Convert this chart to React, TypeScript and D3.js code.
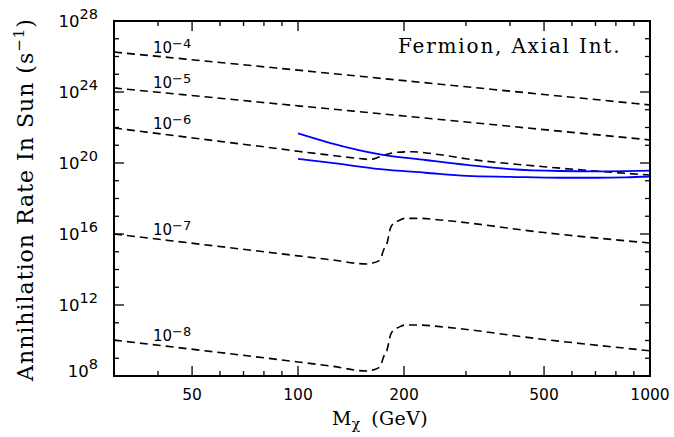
import * as d3 from 'd3'

// x axis (GeV)
const massMajorTicks = [50, 100, 200, 500]
const massMinorTicks = [40, 60, 70, 80, 90, 300, 400, 600, 700, 800, 900]
const massLabelValues = [50, 100, 200, 500, 1000]

// y axis, log10 of the rate
const rateMajorExps = [8, 12, 16, 20, 24, 28]
const rateMinorExps = [9, 10, 11, 13, 14, 15, 17, 18, 19, 21, 22, 23, 25, 26, 27]

// dashed curves, log10(rate)
const massStraight = [30, 100, 200, 500, 1000]
const rateEps4 = [26.25, 25.23, 24.64, 23.86, 23.27]
const rateEps5 = [24.23, 23.22, 22.65, 21.88, 21.3]

const massEps6 = [30, 60, 90, 100, 120, 150, 160, 170, 180, 190, 210, 250, 300, 500, 1000]
const rateEps6 = [21.97, 21.22, 20.78, 20.66, 20.47, 20.25, 20.2, 20.34, 20.5, 20.6, 20.63, 20.48, 20.24, 19.79, 19.32]

const massThreshold = [30, 100, 125, 157, 162, 171, 175, 179, 183, 187, 193, 201, 222, 253, 500, 1000]
const rateEps7 = [16.0, 14.77, 14.54, 14.31, 14.35, 14.54, 15.1, 15.48, 16.32, 16.61, 16.75, 16.88, 16.88, 16.79, 16.08, 15.49]
const rateEps8 = [10.02, 8.79, 8.55, 8.28, 8.32, 8.52, 9.08, 9.46, 10.3, 10.6, 10.74, 10.87, 10.87, 10.78, 10.06, 9.42]

// solid blue curves
const massBlue = [100, 123, 171, 230, 302, 400, 555, 700, 850, 1000]
const rateBlueUpper = [21.67, 21.14, 20.49, 20.17, 19.89, 19.66, 19.55, 19.53, 19.54, 19.57]
const rateBlueLower = [20.23, 20.02, 19.65, 19.45, 19.27, 19.22, 19.17, 19.17, 19.19, 19.24]

const curveLabels = ['−4', '−5', '−6', '−7', '−8']

const W = 674
const H = 437
const left = 114
const right = 650
const top = 21
const bottom = 376

const x = d3.scaleLog().domain([30, 1000]).range([left, right])
const y = d3.scaleLinear().domain([8, 28]).range([bottom, top])

const line = d3
  .line<[number, number]>()
  .x((d) => x(d[0]))
  .y((d) => y(d[1]))
  .curve(d3.curveMonotoneX)

const zip = (ms: number[], rs: number[]) => ms.map((m, i) => [m, rs[i]] as [number, number])

const dashed = [
  zip(massStraight, rateEps4),
  zip(massStraight, rateEps5),
  zip(massEps6, rateEps6),
  zip(massThreshold, rateEps7),
  zip(massThreshold, rateEps8),
]
const solid = [zip(massBlue, rateBlueUpper), zip(massBlue, rateBlueLower)]

const sans = '"DejaVu Sans", sans-serif'
const serif = '"DejaVu Serif", serif'

export default function App() {
  return (
    <div style={{ position: 'absolute', left: 0, top: 0 }}>
      <svg width={W} height={H} style={{ display: 'block', background: '#fff' }}>
        {/* curves */}
        {dashed.map((d, i) => (
          <path key={'d' + i} d={line(d) || ''} fill="none" stroke="#000" strokeWidth={1.6} strokeDasharray="8,5" />
        ))}
        {solid.map((d, i) => (
          <path key={'s' + i} d={line(d) || ''} fill="none" stroke="#0000ff" strokeWidth={1.8} />
        ))}

        {/* curve labels */}
        {dashed.map((d, i) => {
          const ly = y(d[0][1]) + 0.5
          return (
            <text key={'l' + i} x={153} y={ly} fontFamily={sans} fontSize={15} fill="#000">
              10
              <tspan dy={-5} fontSize={13}>
                {curveLabels[i]}
              </tspan>
            </text>
          )
        })}

        {/* frame */}
        <rect x={left} y={top} width={right - left} height={bottom - top} fill="none" stroke="#000" strokeWidth={2} />

        {/* x ticks */}
        {massMajorTicks.map((m) => (
          <g key={'xm' + m}>
            <line x1={x(m)} x2={x(m)} y1={bottom} y2={bottom - 10} stroke="#000" strokeWidth={1.3} />
            <line x1={x(m)} x2={x(m)} y1={top} y2={top + 10} stroke="#000" strokeWidth={1.3} />
          </g>
        ))}
        {massMinorTicks.map((m) => (
          <g key={'xn' + m}>
            <line x1={x(m)} x2={x(m)} y1={bottom} y2={bottom - 5} stroke="#000" strokeWidth={1.3} />
            <line x1={x(m)} x2={x(m)} y1={top} y2={top + 5} stroke="#000" strokeWidth={1.3} />
          </g>
        ))}
        {massLabelValues.map((m) => (
          <text key={'xl' + m} x={x(m)} y={400} textAnchor="middle" fontFamily={sans} fontSize={15.5} fill="#000">
            {m}
          </text>
        ))}

        {/* y ticks */}
        {rateMajorExps.map((e) => (
          <g key={'ym' + e}>
            <line x1={left} x2={left + 10} y1={y(e)} y2={y(e)} stroke="#000" strokeWidth={1.3} />
            <line x1={right} x2={right - 10} y1={y(e)} y2={y(e)} stroke="#000" strokeWidth={1.3} />
          </g>
        ))}
        {rateMinorExps.map((e) => (
          <g key={'yn' + e}>
            <line x1={left} x2={left + 5} y1={y(e)} y2={y(e)} stroke="#000" strokeWidth={1.3} />
            <line x1={right} x2={right - 5} y1={y(e)} y2={y(e)} stroke="#000" strokeWidth={1.3} />
          </g>
        ))}
        {rateMajorExps.map((e) => (
          <text
            key={'yl' + e}
            x={98}
            y={Math.min(y(e) + 6, 377)}
            textAnchor="end"
            fontFamily={sans}
            fontSize={16.5}
            fill="#000"
          >
            10
            <tspan dy={-8} fontSize={14.5}>
              {e}
            </tspan>
          </text>
        ))}

        {/* title */}
        <text x={398} y={53} fontFamily={serif} fontSize={20} letterSpacing={1.8} fill="#000">
          Fermion, Axial Int.
        </text>

        {/* x label */}
        <text x={332} y={425} fontFamily={serif} fontSize={19} letterSpacing={0.4} fill="#000">
          M
          <tspan dy={4} fontSize={14}>
            χ
          </tspan>
          <tspan dy={-4} dx={4}>
            {' (GeV)'}
          </tspan>
        </text>

        {/* y label */}
        <text
          transform={`translate(33,${(top + bottom) / 2 + 1}) rotate(-90)`}
          textAnchor="middle"
          fontFamily={serif}
          fontSize={22}
          letterSpacing={1}
          fill="#000"
        >
          Annihilation Rate In Sun (s
          <tspan dy={-9} fontSize={15}>
            −1
          </tspan>
          <tspan dy={9}>)</tspan>
        </text>
      </svg>
    </div>
  )
}
